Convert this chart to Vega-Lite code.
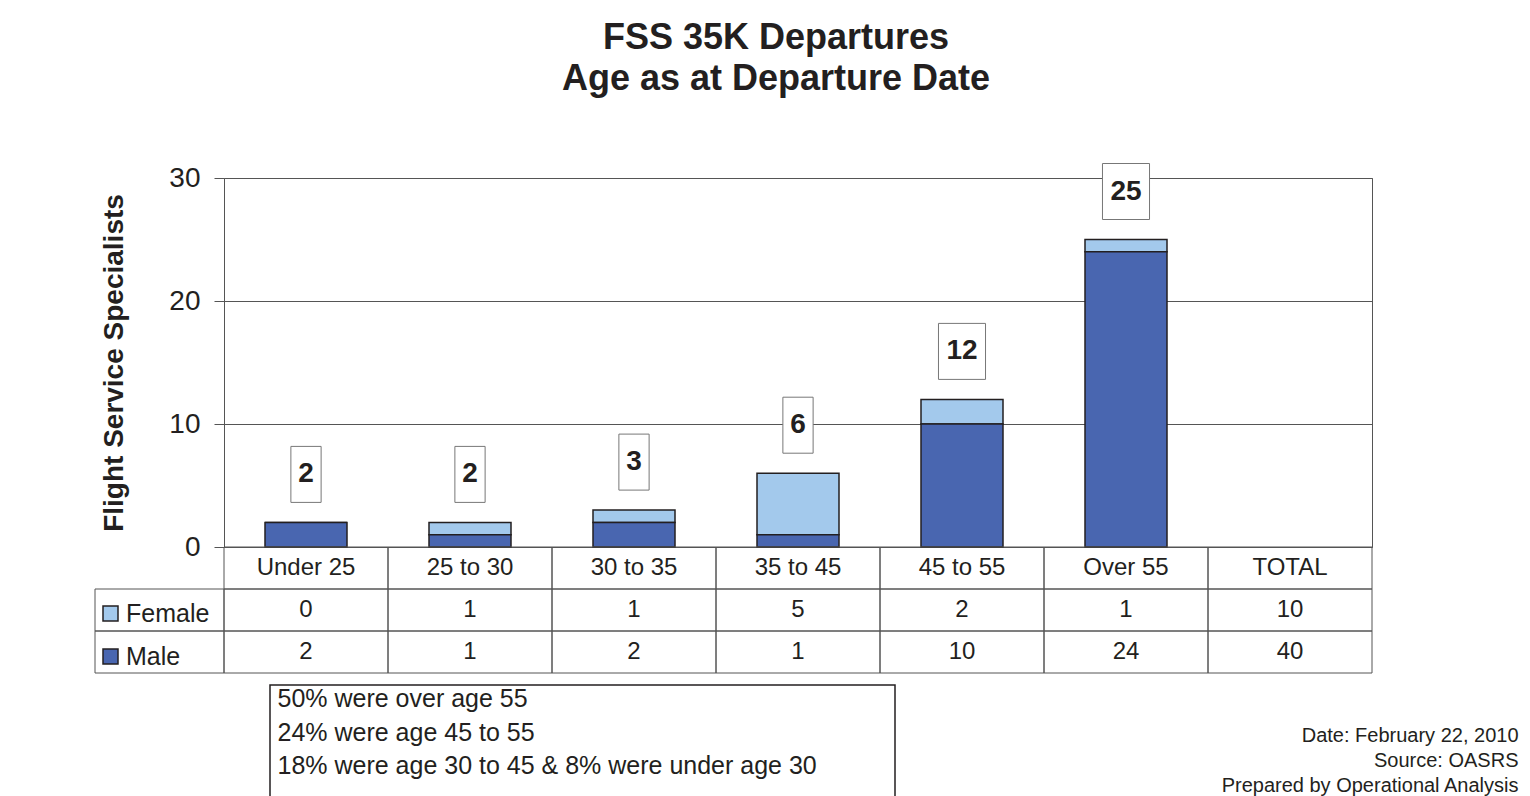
{
  "$schema": "https://vega.github.io/schema/vega-lite/v6.json",
  "autosize": {"type": "none"},
  "padding": {"left": 95, "top": 178, "right": 1435, "bottom": 618},
  "background": "white",
  "config": {
    "font": "Liberation Sans",
    "view": {"stroke": null}
  },
  "datasets": {
    "counts": [
      {"category": "Under 25", "series": "Female", "count": 0},
      {"category": "Under 25", "series": "Male", "count": 2},
      {"category": "25 to 30", "series": "Female", "count": 1},
      {"category": "25 to 30", "series": "Male", "count": 1},
      {"category": "30 to 35", "series": "Female", "count": 1},
      {"category": "30 to 35", "series": "Male", "count": 2},
      {"category": "35 to 45", "series": "Female", "count": 5},
      {"category": "35 to 45", "series": "Male", "count": 1},
      {"category": "45 to 55", "series": "Female", "count": 2},
      {"category": "45 to 55", "series": "Male", "count": 10},
      {"category": "Over 55", "series": "Female", "count": 1},
      {"category": "Over 55", "series": "Male", "count": 24},
      {"category": "TOTAL", "series": "Female", "count": 10},
      {"category": "TOTAL", "series": "Male", "count": 40}
    ],
    "notes": [
      {"line": 1, "text": "50% were over age 55"},
      {"line": 2, "text": "24% were age 45 to 55"},
      {"line": 3, "text": "18% were age 30 to 45 & 8% were under age 30"}
    ],
    "footer": [
      {"line": 1, "text": "Date: February 22, 2010"},
      {"line": 2, "text": "Source: OASRS"},
      {"line": 3, "text": "Prepared by Operational Analysis"}
    ]
  },
  "columns": 2,
  "bounds": "flush",
  "align": "each",
  "spacing": 0,
  "concat": [
    {
      "width": 129, "height": 369,
      "data": {"values": [{}]},
      "mark": {"type": "point", "opacity": 0},
      "encoding": {}
    },
    {
      "width": 1148, "height": 369,
      "view": {"stroke": "#555", "strokeWidth": 1},
      "title": {
        "text": ["FSS 35K Departures", "Age as at Departure Date"],
        "fontSize": 36, "fontWeight": "bold", "color": "#231f20",
        "anchor": "middle", "frame": "group", "dx": -22, "offset": 64, "lineHeight": 41
      },
      "data": {"name": "counts"},
      "transform": [{"filter": "datum.category !== 'TOTAL'"}],
      "encoding": {
        "x": {
          "field": "category", "type": "nominal",
          "scale": {"domain": ["Under 25", "25 to 30", "30 to 35", "35 to 45", "45 to 55", "Over 55", "TOTAL"], "paddingInner": 0, "paddingOuter": 0},
          "axis": null
        }
      },
      "layer": [
        {
          "mark": {"type": "bar", "width": {"band": 0.5}, "stroke": "#231f20", "strokeWidth": 1.5},
          "encoding": {
            "y": {
              "field": "count", "type": "quantitative", "stack": "zero",
              "scale": {"domain": [0, 30], "nice": false},
              "axis": {
                "title": "Flight Service Specialists",
                "values": [0, 10, 20, 30],
                "grid": true, "gridColor": "#555", "gridWidth": 1,
                "domain": false,
                "tickSize": 10, "tickColor": "#555",
                "labelFontSize": 28, "labelPadding": 14, "labelColor": "#231f20",
                "titleFontSize": 28, "titleFontWeight": "bold", "titleColor": "#231f20", "titlePadding": 40
              }
            },
            "color": {
              "field": "series", "type": "nominal",
              "scale": {"domain": ["Female", "Male"], "range": ["#a3c9ec", "#4966b0"]},
              "legend": {
                "orient": "none", "legendX": 3, "legendY": 423,
                "title": null, "padding": 0,
                "symbolType": "square", "symbolSize": 225,
                "symbolStrokeColor": "#231f20", "symbolStrokeWidth": 1.5,
                "labelFontSize": 25, "labelOffset": 3, "labelColor": "#231f20",
                "rowPadding": 17
              }
            },
            "order": {"field": "series", "sort": "descending"}
          }
        },
        {
          "transform": [{"aggregate": [{"op": "sum", "field": "count", "as": "count"}], "groupby": ["category"]}],
          "encoding": {
            "y": {"field": "count", "type": "quantitative", "scale": {"domain": [0, 30], "nice": false}}
          },
          "layer": [
            {
              "transform": [{"filter": "datum.count < 10"}],
              "mark": {"type": "point", "shape": "M-0.27,-0.5H0.27V0.5H-0.27Z", "size": 12544, "filled": true, "fill": "white", "stroke": "#777", "strokeWidth": 1, "opacity": 1, "yOffset": -48}
            },
            {
              "transform": [{"filter": "datum.count >= 10"}],
              "mark": {"type": "point", "shape": "M-0.42,-0.5H0.42V0.5H-0.42Z", "size": 12544, "filled": true, "fill": "white", "stroke": "#777", "strokeWidth": 1, "opacity": 1, "yOffset": -48}
            },
            {
              "mark": {"type": "text", "fontSize": 28, "fontWeight": "bold", "color": "#231f20", "baseline": "middle", "yOffset": -48},
              "encoding": {"text": {"field": "count", "type": "quantitative"}}
            }
          ]
        }
      ]
    },
    {
      "width": 129, "height": 126,
      "data": {"name": "counts"},
      "transform": [{"filter": "datum.category === 'TOTAL'"}],
      "mark": {"type": "rect", "filled": false, "stroke": "#555", "strokeWidth": 1},
      "encoding": {
        "y": {"field": "series", "type": "nominal", "scale": {"domain": ["header", "Female", "Male"], "paddingInner": 0, "paddingOuter": 0}, "axis": null}
      }
    },
    {
      "width": 1148, "height": 126,
      "data": {"name": "counts"},
      "encoding": {
        "x": {
          "field": "category", "type": "nominal",
          "scale": {"domain": ["Under 25", "25 to 30", "30 to 35", "35 to 45", "45 to 55", "Over 55", "TOTAL"], "paddingInner": 0, "paddingOuter": 0},
          "axis": null
        }
      },
      "layer": [
        {
          "mark": {"type": "rect", "filled": false, "stroke": "#555", "strokeWidth": 1},
          "encoding": {
            "y": {"field": "series", "type": "nominal", "scale": {"domain": ["header", "Female", "Male"], "paddingInner": 0, "paddingOuter": 0}, "axis": null}
          }
        },
        {
          "mark": {"type": "text", "fontSize": 24, "color": "#231f20", "baseline": "middle"},
          "encoding": {
            "y": {"field": "series", "type": "nominal", "axis": null},
            "text": {"field": "count", "type": "quantitative"}
          }
        },
        {
          "transform": [{"aggregate": [{"op": "count", "as": "n"}], "groupby": ["category"]}],
          "layer": [
            {
              "mark": {"type": "rect", "filled": false, "stroke": "#555", "strokeWidth": 1},
              "encoding": {"y": {"datum": "header", "type": "nominal", "axis": null}}
            },
            {
              "mark": {"type": "text", "fontSize": 24, "color": "#231f20", "baseline": "middle"},
              "encoding": {
                "y": {"datum": "header", "type": "nominal", "axis": null},
                "text": {"field": "category", "type": "nominal"}
              }
            }
          ]
        }
      ]
    },
    {
      "width": 1, "height": 12,
      "data": {"values": [{}]},
      "mark": {"type": "point", "opacity": 0},
      "encoding": {}
    },
    {
      "width": 1, "height": 12,
      "data": {"values": [{}]},
      "mark": {"type": "point", "opacity": 0},
      "encoding": {}
    },
    {
      "bounds": "flush",
      "spacing": 0,
      "hconcat": [
        {
          "width": 175, "height": 10,
          "data": {"values": [{}]},
          "mark": {"type": "point", "opacity": 0},
          "encoding": {}
        },
        {
          "width": 625, "height": 125,
          "view": {"stroke": "#231f20", "strokeWidth": 1.5},
          "data": {"name": "notes"},
          "mark": {"type": "point", "opacity": 0},
          "encoding": {
            "y": {
              "field": "text", "type": "nominal", "sort": null,
              "scale": {"type": "point", "padding": 0.866, "align": 0.241},
              "axis": {"orient": "left", "title": null, "domain": false, "ticks": false, "labelAlign": "left", "labelPadding": -7, "labelFontSize": 25, "labelColor": "#231f20", "labelLimit": 0}
            }
          }
        },
        {
          "width": 623, "height": 100,
          "data": {"name": "footer"},
          "mark": {"type": "point", "opacity": 0},
          "encoding": {
            "y": {
              "field": "text", "type": "nominal", "sort": null,
              "scale": {"type": "point", "padding": 1, "align": 1},
              "axis": {"orient": "right", "title": null, "domain": false, "ticks": false, "labelAlign": "right", "labelPadding": 0, "labelFontSize": 20, "labelColor": "#231f20", "labelLimit": 0}
            }
          }
        }
      ]
    }
  ]
}
